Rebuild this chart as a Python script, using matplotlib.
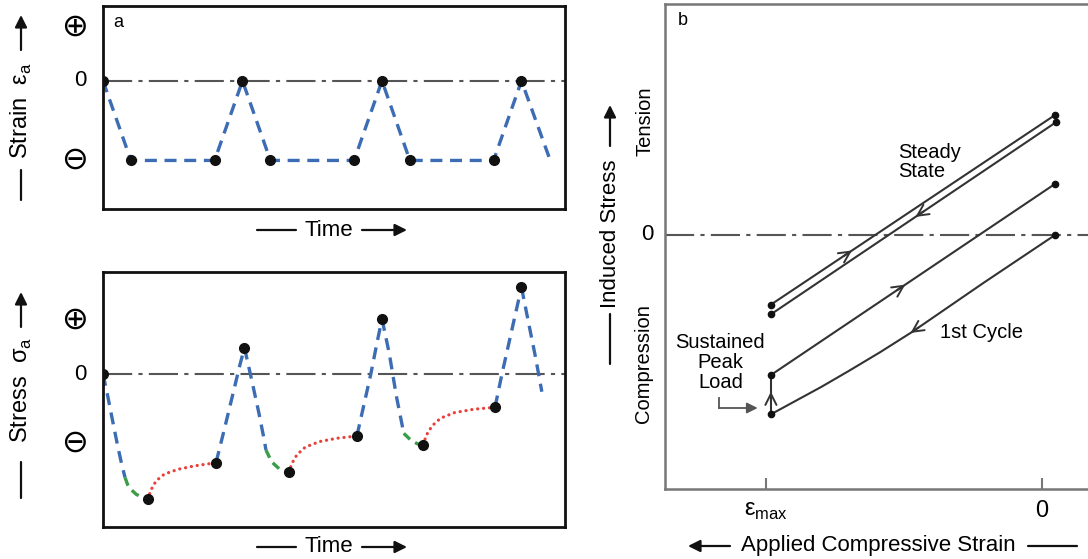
import numpy as np
import matplotlib
matplotlib.use('Agg')
import matplotlib.pyplot as plt

plt.rcParams['font.family'] = ['Liberation Sans', 'DejaVu Sans']
plt.rcParams['mathtext.fontset'] = 'custom'
plt.rcParams['mathtext.rm'] = 'Liberation Sans'

W, H = 1088, 559

# ---- datos panel a (deformacion) ----
strain_t = [0, 1, 4, 5, 6, 9, 10, 11, 14, 15, 16]
strain_v = [0, -1, -1, 0, -1, -1, 0, -1, -1, 0, -0.97]
strain_dots = 10  # los primeros 10 puntos llevan marcador

# ---- datos panel de esfuerzo: tramos azules (carga/descarga) ----
blue_segs = [
    ([0, 0.15, 0.34, 0.53, 0.66, 0.79], [0, -0.28, -0.67, -1.05, -1.29, -1.5]),
    ([4.05, 4.35, 4.65, 4.9, 5.07], [-1.286, -0.8, -0.3, 0.12, 0.381]),
    ([5.07, 5.33, 5.59, 5.78, 5.84], [0.381, -0.087, -0.57, -0.957, -1.1]),
    ([9.1, 9.35, 9.6, 9.82, 10.0], [-0.899, -0.45, 0.0, 0.45, 0.797]),
    ([10.0, 10.26, 10.52, 10.71, 10.78], [0.797, 0.3, -0.33, -0.715, -0.86]),
    ([14.05, 14.3, 14.55, 14.8, 15.0], [-0.483, 0.0, 0.45, 0.9, 1.257]),
    ([15.0, 15.25, 15.5, 15.73], [1.257, 0.75, 0.25, -0.257]),
]
# tramos verdes (asentamiento)
green_segs = [
    ([0.79, 0.88, 0.97, 1.18, 1.4, 1.6], [-1.5, -1.6, -1.66, -1.74, -1.79, -1.816]),
    ([5.84, 6.04, 6.36, 6.65], [-1.1, -1.271, -1.39, -1.425]),
    ([10.78, 11.03, 11.28, 11.47], [-0.86, -0.957, -1.014, -1.025]),
]
# tramos rojos (relajacion)
red_segs = [
    ([1.6, 1.72, 1.9, 2.2, 2.7, 3.3, 4.05], [-1.816, -1.68, -1.55, -1.45, -1.38, -1.33, -1.286]),
    ([6.65, 6.78, 6.95, 7.25, 7.75, 8.4, 9.1], [-1.425, -1.29, -1.17, -1.06, -0.98, -0.93, -0.899]),
    ([11.47, 11.6, 11.8, 12.1, 12.6, 13.3, 14.05], [-1.025, -0.88, -0.75, -0.64, -0.56, -0.51, -0.483]),
]
stress_dot_t = [0, 1.6, 4.05, 5.07, 6.65, 9.1, 10.0, 11.47, 14.05, 15.0]
stress_dot_v = [0, -1.816, -1.286, 0.381, -1.425, -0.899, 0.797, -1.025, -0.483, 1.257]

# ---- datos panel b ----
steady_up_x = [-0.982, 0.048]
steady_up_y = [-0.696, 1.2]
steady_lo_x = [-0.982, 0.05]
steady_lo_y = [-0.793, 1.125]
mid_x = [-0.982, 0.048]
mid_y = [-1.4, 0.511]
first_x = [0.048, -0.212, -0.471, -0.585, -0.7, -0.8, -0.9, -0.982]
first_y = [0, -0.48, -0.971, -1.17, -1.36, -1.52, -1.67, -1.793]
b_xticks = [-1, 0]
b_xlabels = ['ε$_{\\mathrm{max}}$', '0']

BLUE = '#3c6cb4'
GREEN = '#3a9d48'
RED = '#e8413c'
GRAY = '#555555'
LINE = '#333333'


def fpx(x, y):
    return (x / W, 1 - y / H)


def axes_rect(x0, y0, x1, y1):
    return [x0 / W, 1 - y1 / H, (x1 - x0) / W, (y1 - y0) / H]


fig = plt.figure(figsize=(W / 100, H / 100), dpi=100)

ax1 = fig.add_axes(axes_rect(103, 6, 565, 209))
ax2 = fig.add_axes(axes_rect(103, 272, 565, 527))
ax3 = fig.add_axes(axes_rect(665, 4, 1100, 489))

zero_ls = (0, (14, 3, 2, 3))

# ---------- panel a ----------
ax1.set_xlim(0, 16.56)
ax1.set_ylim(-1.61, 0.94)
ax1.axhline(0, color=GRAY, lw=1.5, ls=zero_ls, zorder=1)
ax1.plot(strain_t, strain_v, color=BLUE, lw=2.4, ls=(0, (3.6, 2.3)), zorder=2)
ax1.plot(strain_t[:strain_dots], strain_v[:strain_dots], 'o', color='#111111', ms=7, zorder=3)
ax1.text(0.022, 0.92, 'a', transform=ax1.transAxes, fontsize=13, va='center', ha='left')

# ---------- panel esfuerzo ----------
ax2.set_xlim(0, 16.56)
ax2.set_ylim(-2.217, 1.478)
ax2.axhline(0, color=GRAY, lw=1.5, ls=zero_ls, zorder=1)
for xs, ys in blue_segs:
    ax2.plot(xs, ys, color=BLUE, lw=2.4, ls=(0, (3.6, 2.3)), zorder=2)
for xs, ys in green_segs:
    ax2.plot(xs, ys, color=GREEN, lw=2.4, ls=(0, (2.6, 1.8)), zorder=2)
for xs, ys in red_segs:
    ax2.plot(xs, ys, color=RED, lw=2.3, ls=(0, (0.05, 1.8)), dash_capstyle='round', zorder=2)
ax2.plot(stress_dot_t, stress_dot_v, 'o', color='#111111', ms=7, zorder=3)

for ax, plus_y in [(ax1, 0.68), (ax2, 0.78)]:
    tr = ax.get_yaxis_transform()
    ax.text(-0.061, plus_y, '\u2295', transform=tr, fontsize=23, ha='center', va='center',
            family=['DejaVu Sans'])
    ax.text(-0.061, -1, '\u2296', transform=tr, fontsize=23, ha='center', va='center',
            family=['DejaVu Sans'])
    ax.text(-0.05, 0, '0', transform=tr, fontsize=16, ha='center', va='center')
    ax.set_xticks([])
    ax.set_yticks([])
    for s in ax.spines.values():
        s.set_linewidth(2.0)
        s.set_color('#111111')

# ---------- panel b ----------
ax3.set_xlim(-1.366, 0.211)
ax3.set_ylim(-2.54, 2.31)
ax3.axhline(0, color=GRAY, lw=1.5, ls=zero_ls, zorder=1)
for xs, ys in [(steady_up_x, steady_up_y), (steady_lo_x, steady_lo_y), (mid_x, mid_y), (first_x, first_y)]:
    ax3.plot(xs, ys, color=LINE, lw=1.5, zorder=2)
    ax3.plot([xs[0], xs[-1]], [ys[0], ys[-1]], 'o', color='#111111', ms=4.5, zorder=3)
# tramo vertical de carga sostenida
ax3.plot([first_x[-1], mid_x[0]], [first_y[-1], mid_y[0]], color=LINE, lw=1.5, zorder=2)


def chevron(ax, xs, ys, xa, forward=True):
    # flecha abierta sobre la curva, en la abscisa xa
    order = np.argsort(xs)
    xs_s = np.array(xs)[order]
    ys_s = np.array(ys)[order]
    d = 0.03 if forward else -0.03
    p0 = (xa - d, np.interp(xa - d, xs_s, ys_s))
    p1 = (xa, np.interp(xa, xs_s, ys_s))
    ax.annotate('', xy=p1, xytext=p0,
                arrowprops=dict(arrowstyle='->', color=LINE, lw=1.4, mutation_scale=20,
                                shrinkA=0, shrinkB=0))


chevron(ax3, steady_up_x, steady_up_y, -0.688, True)
chevron(ax3, steady_lo_x, steady_lo_y, -0.458, False)
chevron(ax3, mid_x, mid_y, -0.495, True)
chevron(ax3, first_x, first_y, -0.476, False)
ymid = (first_y[-1] + mid_y[0]) / 2
ax3.annotate('', xy=(first_x[-1], ymid + 0.03), xytext=(first_x[-1], ymid - 0.07),
             arrowprops=dict(arrowstyle='->', color=LINE, lw=1.4, mutation_scale=20,
                             shrinkA=0, shrinkB=0))

# flecha doblada "Sustained Peak Load"
ax3.plot([-1.17, -1.17], [-1.63, -1.73], color=GRAY, lw=1.3)
ax3.annotate('', xy=(-1.03, -1.73), xytext=(-1.17, -1.73),
             arrowprops=dict(arrowstyle='-|>', color=GRAY, lw=1.3, mutation_scale=16,
                             shrinkA=0, shrinkB=0))

ax3.text(-1.165, -1.275, 'Sustained\nPeak\nLoad', fontsize=14.5, ha='center', va='center',
         linespacing=1.05)
ax3.text(-0.52, 0.73, 'Steady\nState', fontsize=14.5, ha='left', va='center', linespacing=1.05)
ax3.text(-0.37, -0.97, '1st Cycle', fontsize=14.5, ha='left', va='center')
ax3.text(0.03, 0.967, 'b', transform=ax3.transAxes, fontsize=13, va='center', ha='left')

tr3 = ax3.get_yaxis_transform()
ax3.text(-0.046, 1.14, 'Tension', transform=tr3, rotation=90, fontsize=14.5, ha='center', va='center')
ax3.text(-0.05, -1.29, 'Compression', transform=tr3, rotation=90, fontsize=14.5, ha='center', va='center')
ax3.text(-0.041, 0, '0', transform=tr3, fontsize=16, ha='center', va='center')

ax3.set_yticks([])
ax3.set_xticks(b_xticks)
ax3.set_xticklabels(b_xlabels, fontsize=17)
ax3.tick_params(axis='x', direction='in', length=8, width=1.5, color='#777777', pad=8)
for s in ax3.spines.values():
    s.set_linewidth(1.8)
    s.set_color('#777777')

# ---------- rotulos con flechas (coordenadas de figura) ----------
def arrow_line(p0, p1, head=True):
    style = '-|>' if head else '-'
    fig.add_artist(matplotlib.patches.FancyArrowPatch(
        fpx(*p0), fpx(*p1), transform=fig.transFigure, arrowstyle=style,
        mutation_scale=18, lw=1.6, color='#111111', shrinkA=0, shrinkB=0))


# Strain
fig.text(*fpx(21, 111), 'Strain  ε$_{\\mathrm{a}}$', rotation=90, fontsize=17,
         ha='center', va='center')
arrow_line((21, 200), (21, 170), head=False)
arrow_line((21, 50), (21, 15))
# Stress
fig.text(*fpx(21, 390), 'Stress  σ$_{\\mathrm{a}}$', rotation=90, fontsize=17,
         ha='center', va='center')
arrow_line((21, 498), (21, 462), head=False)
arrow_line((21, 327), (21, 292))
# Time
for yy in [230, 547]:
    fig.text(*fpx(329, yy), 'Time', fontsize=16, ha='center', va='center')
    arrow_line((257, yy), (296, yy), head=False)
    arrow_line((362, yy), (407, yy))
# Applied Compressive Strain
fig.text(*fpx(878, 546), 'Applied Compressive Strain', fontsize=16, ha='center', va='center')
arrow_line((730, 546), (688, 546))
arrow_line((1028, 546), (1077, 546), head=False)
# Induced Stress
fig.text(*fpx(610, 234), 'Induced Stress', rotation=90, fontsize=16, ha='center', va='center')
arrow_line((610, 146), (610, 105))
arrow_line((610, 314), (610, 364), head=False)

fig.savefig('out.png', dpi=100)
